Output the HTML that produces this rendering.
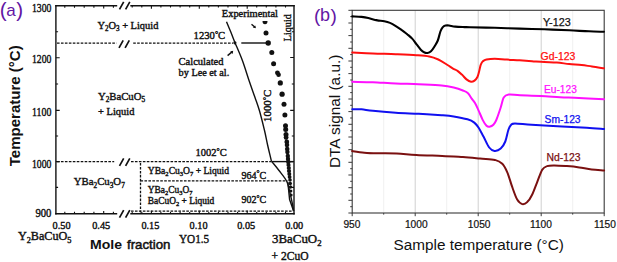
<!DOCTYPE html>
<html><head><meta charset="utf-8"><title>Phase diagram and DTA</title>
<style>html,body{margin:0;padding:0;background:#fff;}svg{display:block;}</style></head>
<body><svg width="617" height="262" viewBox="0 0 617 262">
<rect width="617" height="262" fill="#fff"/>
<g stroke="#111" stroke-width="1.4" fill="none" stroke-linecap="square">
<path d="M55.9 5.8 V213.8"/>
<path d="M294 5.8 V213.8"/>
<path d="M55.9 5.8 H116.5 M131 5.8 H294"/>
<path d="M55.9 213.8 H116.5 M131 213.8 H294"/>
</g>
<g stroke="#111" stroke-width="1.7" fill="none">
<path d="M119.5 9.3 L123.7 1.9 M125.6 9.3 L129.8 1.9"/>
<path d="M119.0 47.8 L123.2 40.4 M125.1 47.8 L129.3 40.4"/>
<path d="M119.5 165.8 L123.7 158.4 M125.6 165.8 L129.8 158.4"/>
<path d="M119.5 217.6 L123.7 210.2 M125.6 217.6 L129.8 210.2"/>
</g>
<path d="M55.9 57.7 h3.8 M55.9 110.4 h3.8 M55.9 161.6 h3.8 M55.9 31.8 h2.2 M55.9 84.0 h2.2 M55.9 136.0 h2.2 M55.9 187.4 h2.2 M294 57.5 h-3.8 M294 110.4 h-3.8 M294 161.6 h-3.8 M294 31.8 h-2.2 M294 84.0 h-2.2 M294 136.0 h-2.2 M294 187.4 h-2.2 M64.8 5.8 v2.0 M64.8 213.8 v-2.0 M74.5 5.8 v2.0 M74.5 213.8 v-2.0 M84.2 5.8 v2.0 M84.2 213.8 v-2.0 M93.9 5.8 v2.0 M93.9 213.8 v-2.0 M103.7 5.8 v2.8 M103.7 213.8 v-2.8 M113.4 5.8 v2.0 M113.4 213.8 v-2.0 M132.2 5.8 v1.8 M132.2 213.8 v-1.8 M141.8 5.8 v1.8 M141.8 213.8 v-1.8 M151.4 5.8 v3.0 M151.4 213.8 v-3.0 M160.9 5.8 v1.8 M160.9 213.8 v-1.8 M170.5 5.8 v1.8 M170.5 213.8 v-1.8 M180.1 5.8 v1.8 M180.1 213.8 v-1.8 M189.7 5.8 v1.8 M189.7 213.8 v-1.8 M199.3 5.8 v3.0 M199.3 213.8 v-3.0 M208.8 5.8 v1.8 M208.8 213.8 v-1.8 M218.4 5.8 v1.8 M218.4 213.8 v-1.8 M228.0 5.8 v1.8 M228.0 213.8 v-1.8 M237.6 5.8 v1.8 M237.6 213.8 v-1.8 M247.2 5.8 v3.0 M247.2 213.8 v-3.0 M256.7 5.8 v1.8 M256.7 213.8 v-1.8 M266.3 5.8 v1.8 M266.3 213.8 v-1.8 M275.9 5.8 v1.8 M275.9 213.8 v-1.8 M285.5 5.8 v1.8 M285.5 213.8 v-1.8" stroke="#111" stroke-width="1.1" fill="none"/>
<g stroke="#111" stroke-width="1.3" fill="none" stroke-dasharray="2.6 1.35">
<path d="M57 43.1 H116.5 M133.2 43.1 H233"/>
<path d="M57 161.7 H114.2 M131 161.7 H271.5"/>
<path d="M140.5 180.8 H287.5"/>
<path d="M140.5 163 V212.5"/>
<path d="M131 211.2 H293"/>
</g>
<g stroke="#111" stroke-width="1.4" fill="none">
<path d="M241.3 43 H267"/>
<path d="M271.8 161.6 H293"/>
<path d="M226.5 21.8 C227.2 23.5 229.3 28.4 230.7 31.8 C232.1 35.2 232.9 37.4 234.8 42.2 C236.8 47.0 240.0 54.0 242.4 60.5 C244.8 67.0 247.1 74.8 249.2 81.0 C251.3 87.2 253.3 92.6 255.0 97.5 C256.7 102.4 257.8 105.1 259.4 110.5 C261.0 115.9 263.0 124.2 264.4 130.0 C265.8 135.8 266.4 139.7 267.6 145.0 C268.8 150.3 270.9 158.8 271.5 161.6"/>
<path d="M271.8 161.6 C273.0 163.1 276.5 167.2 279.0 170.5 C281.5 173.8 284.8 177.4 286.7 181.3 C288.6 185.2 289.3 190.3 290.2 193.9 C291.1 197.5 291.6 200.2 292.2 203.0 C292.8 205.8 293.4 209.7 293.6 211.0"/>
<path d="M287.8 182 L289.6 199.6 L293.6 211"/>
<path d="M251.5 24.3 L255.0 27.3"/>
<path d="M227.6 55.6 L232.3 51.6"/>
</g>
<path d="M256 28.2 l-3.2 -0.6 l2.4 -2.2 z M233.2 50.8 l-0.6 3.2 l-2.4 -2.4 z" fill="#111"/>
<g fill="#111"><circle cx="266.0" cy="32.9" r="2.5"/><circle cx="268.2" cy="43.0" r="2.7"/><circle cx="271.8" cy="52.4" r="2.5"/><circle cx="273.6" cy="63.7" r="2.5"/><circle cx="277.4" cy="72.8" r="2.4"/><circle cx="278.6" cy="74.8" r="2.3"/><circle cx="280.3" cy="82.9" r="2.6"/><circle cx="282.1" cy="94.2" r="2.6"/><circle cx="284.0" cy="104.2" r="2.5"/><circle cx="284.9" cy="114.9" r="2.5"/><circle cx="285.5" cy="125.8" r="2.5"/><circle cx="285.7" cy="129.5" r="2.5"/><circle cx="286.0" cy="134.5" r="2.5"/><circle cx="286.1" cy="137.5" r="2.4"/><circle cx="286.8" cy="142.0" r="2.4"/><circle cx="287.0" cy="145.0" r="2.3"/><circle cx="287.2" cy="149.0" r="2.3"/><circle cx="287.4" cy="152.0" r="2.2"/><circle cx="287.8" cy="156.0" r="2.2"/><circle cx="288.0" cy="159.0" r="2.2"/><circle cx="288.3" cy="162.0" r="2.2"/><circle cx="288.5" cy="165.0" r="2.1"/><circle cx="288.8" cy="168.0" r="2.1"/><circle cx="289.0" cy="171.0" r="2.1"/><circle cx="289.3" cy="174.0" r="2.0"/><circle cx="289.6" cy="177.0" r="1.9"/><circle cx="290.0" cy="180.0" r="1.8"/><circle cx="290.2" cy="183.5" r="1.8"/><circle cx="290.5" cy="187.0" r="1.7"/><circle cx="290.8" cy="191.0" r="1.6"/><circle cx="291.1" cy="195.0" r="1.5"/></g>
<path d="M262.5 21.0 a2.5 3.3 0 0 0 5.0 0 z" fill="#111"/>
<circle cx="234.9" cy="42.8" r="1.6" fill="#111"/>
<g fill="#111" stroke="#111" stroke-width="0.4">
<text x="32.0" y="12.4" font-family="Liberation Serif" font-size="11.50" textLength="19.4" lengthAdjust="spacingAndGlyphs" >1300</text>
<text x="32.0" y="63.4" font-family="Liberation Serif" font-size="11.50" textLength="19.4" lengthAdjust="spacingAndGlyphs" >1200</text>
<text x="32.0" y="116.0" font-family="Liberation Serif" font-size="11.50" textLength="19.4" lengthAdjust="spacingAndGlyphs" >1100</text>
<text x="32.0" y="167.8" font-family="Liberation Serif" font-size="11.50" textLength="19.4" lengthAdjust="spacingAndGlyphs" >1000</text>
<text x="35.4" y="216.5" font-family="Liberation Serif" font-size="11.50" textLength="16.0" lengthAdjust="spacingAndGlyphs" >900</text>
<text x="52.6" y="229.3" font-family="Liberation Serif" font-size="10.40" textLength="18.0" lengthAdjust="spacingAndGlyphs" >0.50</text>
<text x="92.2" y="229.3" font-family="Liberation Serif" font-size="10.40" textLength="18.0" lengthAdjust="spacingAndGlyphs" >0.45</text>
<text x="141.4" y="229.3" font-family="Liberation Serif" font-size="10.40" textLength="18.0" lengthAdjust="spacingAndGlyphs" >0.15</text>
<text x="189.6" y="229.3" font-family="Liberation Serif" font-size="10.40" textLength="18.0" lengthAdjust="spacingAndGlyphs" >0.10</text>
<text x="237.2" y="229.3" font-family="Liberation Serif" font-size="10.40" textLength="18.0" lengthAdjust="spacingAndGlyphs" >0.05</text>
<text x="285.2" y="229.3" font-family="Liberation Serif" font-size="10.40" textLength="18.0" lengthAdjust="spacingAndGlyphs" >0.00</text>
<text x="17.9" y="240.4" font-family="Liberation Serif" font-size="12.0" textLength="53.6" lengthAdjust="spacingAndGlyphs"><tspan>Y</tspan><tspan font-size="8.2" dy="2.6">2</tspan><tspan dy="-2.6">BaCuO</tspan><tspan font-size="8.2" dy="2.6">5</tspan></text>
<text x="179.0" y="242.8" font-family="Liberation Serif" font-size="12.60" textLength="30.2" lengthAdjust="spacingAndGlyphs" >YO1.5</text>
<text x="272.0" y="243.0" font-family="Liberation Serif" font-size="12.2" textLength="49.6" lengthAdjust="spacingAndGlyphs"><tspan>3BaCuO</tspan><tspan font-size="8.3" dy="2.7">2</tspan></text>
<text x="271.6" y="260.3" font-family="Liberation Serif" font-size="11.60" textLength="37.0" lengthAdjust="spacingAndGlyphs" >+ 2CuO</text>
<text x="97.4" y="28.9" font-family="Liberation Serif" font-size="10.8" textLength="61.0" lengthAdjust="spacingAndGlyphs"><tspan>Y</tspan><tspan font-size="7.3" dy="2.4">2</tspan><tspan dy="-2.4">O</tspan><tspan font-size="7.3" dy="2.4">3</tspan><tspan dy="-2.4"> + Liquid</tspan></text>
<text x="193.6" y="39.0" font-family="Liberation Serif" font-size="10.40" textLength="31.6" lengthAdjust="spacingAndGlyphs" >1230<tspan font-size="7.8" dy="-2.1">°</tspan><tspan dy="2.1">C</tspan></text>
<text x="221.8" y="17.2" font-family="Liberation Serif" font-size="10.40" textLength="56.2" lengthAdjust="spacingAndGlyphs" >Experimental</text>
<text transform="translate(290.6 41.2) rotate(-90)" x="0" y="0" font-family="Liberation Serif" font-size="10.4" textLength="27.0" lengthAdjust="spacingAndGlyphs">Liquid</text>
<text x="178.6" y="64.8" font-family="Liberation Serif" font-size="10.50" textLength="44.9" lengthAdjust="spacingAndGlyphs" >Calculated</text>
<text x="178.6" y="76.3" font-family="Liberation Serif" font-size="10.30" textLength="50.6" lengthAdjust="spacingAndGlyphs" >by Lee et al.</text>
<text x="97.9" y="100.0" font-family="Liberation Serif" font-size="10.6" textLength="47.2" lengthAdjust="spacingAndGlyphs"><tspan>Y</tspan><tspan font-size="7.2" dy="2.3">2</tspan><tspan dy="-2.3">BaCuO</tspan><tspan font-size="7.2" dy="2.3">5</tspan></text>
<text x="98.1" y="115.3" font-family="Liberation Serif" font-size="10.40" textLength="36.3" lengthAdjust="spacingAndGlyphs" >+ Liquid</text>
<text transform="translate(271.2 122) rotate(-90)" x="0" y="0" font-family="Liberation Serif" font-size="10.5" textLength="32.4" lengthAdjust="spacingAndGlyphs">1000<tspan font-size="7.9" dy="-2.1">°</tspan><tspan dy="2.1">C</tspan></text>
<text x="195.6" y="156.4" font-family="Liberation Serif" font-size="10.40" textLength="31.2" lengthAdjust="spacingAndGlyphs" >1002<tspan font-size="7.8" dy="-2.1">°</tspan><tspan dy="2.1">C</tspan></text>
<text x="73.8" y="185.2" font-family="Liberation Serif" font-size="10.6" textLength="51.0" lengthAdjust="spacingAndGlyphs"><tspan>YBa</tspan><tspan font-size="7.2" dy="2.3">2</tspan><tspan dy="-2.3">Cu</tspan><tspan font-size="7.2" dy="2.3">3</tspan><tspan dy="-2.3">O</tspan><tspan font-size="7.2" dy="2.3">7</tspan></text>
<text x="147.8" y="174.0" font-family="Liberation Serif" font-size="9.8" textLength="81.2" lengthAdjust="spacingAndGlyphs"><tspan>YBa</tspan><tspan font-size="6.7" dy="2.2">2</tspan><tspan dy="-2.2">Cu</tspan><tspan font-size="6.7" dy="2.2">3</tspan><tspan dy="-2.2">O</tspan><tspan font-size="6.7" dy="2.2">7</tspan><tspan dy="-2.2"> + Liquid</tspan></text>
<text x="241.5" y="178.5" font-family="Liberation Serif" font-size="10.40" textLength="24.8" lengthAdjust="spacingAndGlyphs" >964<tspan font-size="7.8" dy="-2.1">°</tspan><tspan dy="2.1">C</tspan></text>
<text x="147.8" y="192.8" font-family="Liberation Serif" font-size="9.8" textLength="44.6" lengthAdjust="spacingAndGlyphs"><tspan>YBa</tspan><tspan font-size="6.7" dy="2.2">2</tspan><tspan dy="-2.2">Cu</tspan><tspan font-size="6.7" dy="2.2">3</tspan><tspan dy="-2.2">O</tspan><tspan font-size="6.7" dy="2.2">7</tspan></text>
<text x="147.8" y="203.5" font-family="Liberation Serif" font-size="9.7" textLength="66.4" lengthAdjust="spacingAndGlyphs"><tspan>BaCuO</tspan><tspan font-size="6.6" dy="2.1">2</tspan><tspan dy="-2.1"> + Liquid</tspan></text>
<text x="241.5" y="203.3" font-family="Liberation Serif" font-size="10.40" textLength="24.8" lengthAdjust="spacingAndGlyphs" >902<tspan font-size="7.8" dy="-2.1">°</tspan><tspan dy="2.1">C</tspan></text>
</g>
<text transform="translate(19.9 166.3) rotate(-90)" font-family="Liberation Sans" font-weight="bold" font-size="15" textLength="121" lengthAdjust="spacingAndGlyphs" fill="#111">Temperature (°C)</text>
<text x="90.0" y="249.0" font-family="Liberation Sans" font-size="13.20" textLength="32.0" lengthAdjust="spacingAndGlyphs" font-weight="bold" fill="#111">Mole</text>
<text x="127.0" y="249.0" font-family="Liberation Sans" font-size="13.00" textLength="43.5" lengthAdjust="spacingAndGlyphs" stroke="#111" stroke-width="0.5" fill="#111">fraction</text>
<g fill="#6216a4" font-family="Liberation Sans">
<text x="-0.2" y="16.6" font-size="20.6">(</text>
<text x="6.3" y="15.8" font-size="17.0">a</text>
<text x="16.2" y="16.6" font-size="20.6">)</text>
</g>
<path d="M415.2 10.3 V213.0 M478.2 10.3 V213.0 M541.2 10.3 V213.0" stroke="#d0d0d0" stroke-width="1" fill="none"/>
<path d="M383.7 10.3 V213.0 M446.7 10.3 V213.0 M509.7 10.3 V213.0 M572.7 10.3 V213.0" stroke="#f0f0f0" stroke-width="1" fill="none"/>
<rect x="352.2" y="10.3" width="252.0" height="202.7" stroke="#3a3a3a" stroke-width="1.1" fill="none"/>
<path d="M352.2 10.3 h-3.8 M352.2 16.6 h-2.0 M352.2 23.0 h-3.8 M352.2 29.3 h-2.0 M352.2 35.6 h-3.8 M352.2 42.0 h-2.0 M352.2 48.3 h-3.8 M352.2 54.6 h-2.0 M352.2 61.0 h-3.8 M352.2 67.3 h-2.0 M352.2 73.6 h-3.8 M352.2 80.0 h-2.0 M352.2 86.3 h-3.8 M352.2 92.6 h-2.0 M352.2 99.0 h-3.8 M352.2 105.3 h-2.0 M352.2 111.6 h-3.8 M352.2 118.0 h-2.0 M352.2 124.3 h-3.8 M352.2 130.7 h-2.0 M352.2 137.0 h-3.8 M352.2 143.3 h-2.0 M352.2 149.7 h-3.8 M352.2 156.0 h-2.0 M352.2 162.3 h-3.8 M352.2 168.7 h-2.0 M352.2 175.0 h-3.8 M352.2 181.3 h-2.0 M352.2 187.7 h-3.8 M352.2 194.0 h-2.0 M352.2 200.3 h-3.8 M352.2 206.7 h-2.0 M352.2 213.0 h-3.8 M352.2 213.0 v3.2 M383.7 213.0 v1.6 M415.2 213.0 v3.2 M446.7 213.0 v1.6 M478.2 213.0 v3.2 M509.7 213.0 v1.6 M541.2 213.0 v3.2 M572.7 213.0 v1.6 M604.2 213.0 v3.2" stroke="#3a3a3a" stroke-width="1" fill="none"/>
<g fill="none" stroke-linejoin="round" stroke-linecap="round">
<path d="M352.3 16.4 C353.8 16.5 358.8 16.6 361.5 16.9 C364.2 17.2 366.0 17.5 368.3 18.0 C370.6 18.5 373.5 19.5 375.2 19.9 C376.9 20.3 377.1 20.4 378.6 20.6 C380.1 20.8 382.4 20.8 384.3 21.2 C386.2 21.6 388.1 22.1 390.0 22.9 C391.9 23.7 393.9 24.9 395.8 26.1 C397.7 27.3 399.6 28.5 401.5 29.9 C403.4 31.2 405.4 32.8 407.2 34.2 C409.0 35.7 410.6 36.9 412.2 38.6 C413.8 40.3 415.1 42.5 416.6 44.4 C418.1 46.3 419.7 48.6 421.0 50.0 C422.3 51.4 423.4 52.0 424.5 52.5 C425.6 53.0 426.4 53.2 427.5 53.0 C428.6 52.8 429.8 52.4 431.0 51.3 C432.2 50.2 433.4 48.3 434.5 46.5 C435.6 44.7 436.8 43.0 437.8 40.5 C438.8 38.0 439.6 33.7 440.4 31.5 C441.2 29.3 441.8 28.4 442.6 27.4 C443.5 26.4 444.4 25.9 445.5 25.6 C446.6 25.3 447.4 25.3 449.0 25.5 C450.6 25.7 452.7 26.3 455.3 26.6 C457.9 26.9 462.1 27.0 464.5 27.1 C466.9 27.2 464.9 27.1 470.0 27.2 C475.1 27.3 486.5 27.6 494.8 27.8 C503.1 28.0 511.3 28.4 519.6 28.6 C527.9 28.9 536.1 29.0 544.4 29.3 C552.7 29.6 561.8 30.0 569.2 30.3 C576.6 30.6 583.2 31.1 589.0 31.3 C594.8 31.6 601.4 31.7 603.9 31.8" stroke="#000" stroke-width="2.1"/>
<path d="M352.3 52.6 C355.7 52.8 365.6 53.2 372.9 53.5 C380.1 53.8 388.6 53.9 395.8 54.2 C403.1 54.5 410.8 54.8 416.4 55.2 C422.0 55.6 425.5 55.8 429.2 56.5 C432.9 57.2 435.2 58.1 438.3 59.5 C441.4 60.9 445.1 63.5 447.5 65.0 C449.9 66.5 451.3 67.6 453.0 68.6 C454.7 69.6 456.0 69.8 457.5 70.8 C459.0 71.8 460.4 73.2 461.9 74.6 C463.4 76.0 465.0 78.2 466.5 79.4 C468.0 80.6 469.7 81.6 471.0 81.8 C472.3 82.0 473.4 81.4 474.5 80.6 C475.6 79.8 476.5 78.7 477.3 77.2 C478.1 75.7 478.5 73.6 479.1 71.5 C479.7 69.4 480.1 66.3 480.8 64.6 C481.5 62.9 482.2 61.9 483.1 61.1 C484.1 60.3 484.6 60.0 486.5 59.6 C488.4 59.2 491.4 58.8 494.8 58.8 C498.2 58.8 502.9 59.4 507.0 59.6 C511.1 59.9 515.4 60.0 519.6 60.3 C523.8 60.6 527.9 60.9 532.0 61.2 C536.1 61.5 540.3 61.9 544.4 62.1 C548.5 62.3 552.7 62.3 556.8 62.6 C560.9 62.9 565.1 63.6 569.2 64.0 C573.3 64.4 577.8 64.6 581.6 65.0 C585.4 65.4 588.3 66.0 592.0 66.5 C595.7 67.0 601.9 68.0 603.9 68.3" stroke="#ff1010" stroke-width="2"/>
<path d="M352.3 81.8 C355.7 81.9 365.6 81.9 372.9 82.2 C380.1 82.5 388.2 83.1 395.8 83.4 C403.4 83.8 411.1 83.9 418.7 84.3 C426.3 84.7 435.8 85.1 441.6 85.6 C447.4 86.1 450.1 86.7 453.7 87.5 C457.2 88.3 460.5 89.5 462.9 90.5 C465.3 91.5 466.6 91.9 468.0 93.2 C469.4 94.5 470.3 96.7 471.5 98.3 C472.7 99.9 473.9 101.1 475.0 103.0 C476.1 104.9 477.0 107.0 478.3 109.8 C479.6 112.6 481.4 117.4 482.8 120.1 C484.2 122.8 485.4 124.7 486.5 125.8 C487.6 126.9 488.4 127.0 489.5 126.8 C490.6 126.6 492.3 125.9 493.4 124.8 C494.5 123.7 495.1 122.9 496.3 120.0 C497.5 117.1 499.5 111.2 500.7 107.5 C501.9 103.8 502.4 99.8 503.7 97.6 C505.0 95.4 506.0 95.0 508.7 94.6 C511.4 94.2 514.8 95.1 520.1 95.3 C525.5 95.5 534.1 95.7 540.8 96.0 C547.4 96.3 554.4 96.9 560.0 97.2 C565.6 97.5 567.0 97.5 574.4 97.8 C581.8 98.1 599.1 99.0 604.1 99.3" stroke="#ff10ff" stroke-width="2"/>
<path d="M352.3 109.2 C353.8 109.2 358.1 109.0 361.5 109.3 C364.9 109.6 367.2 110.2 372.9 110.8 C378.6 111.4 388.2 112.2 395.8 112.7 C403.4 113.2 411.1 113.4 418.7 113.8 C426.3 114.2 435.8 114.8 441.6 115.2 C447.4 115.6 449.4 115.7 453.7 116.4 C458.0 117.1 464.1 118.3 467.5 119.3 C470.9 120.3 472.5 121.2 474.3 122.6 C476.1 124.0 477.0 125.2 478.5 127.5 C480.0 129.8 481.7 133.2 483.5 136.5 C485.3 139.8 487.4 145.1 489.2 147.5 C491.0 149.9 492.6 150.7 494.5 150.9 C496.4 151.1 498.9 150.2 500.7 148.6 C502.5 147.0 504.0 144.7 505.3 141.5 C506.6 138.3 507.5 132.3 508.5 129.5 C509.5 126.7 510.1 125.8 511.2 124.8 C512.3 123.8 511.6 123.6 515.0 123.6 C518.4 123.6 523.8 124.3 531.6 124.8 C539.4 125.3 552.8 126.1 562.0 126.6 C571.2 127.1 579.8 127.4 586.8 127.8 C593.8 128.2 601.2 128.8 604.1 129.0" stroke="#1010f0" stroke-width="2"/>
<path d="M352.1 151.1 C354.2 151.4 360.2 152.3 364.4 152.7 C368.6 153.1 372.0 153.2 377.4 153.3 C382.8 153.4 390.3 153.2 396.8 153.5 C403.3 153.8 408.7 154.6 416.3 155.0 C423.9 155.4 434.4 155.6 442.2 155.9 C450.0 156.2 456.6 156.7 462.9 157.1 C469.2 157.5 474.7 158.1 480.0 158.6 C485.3 159.1 491.2 159.1 494.9 159.9 C498.6 160.8 500.2 161.6 502.3 163.7 C504.4 165.8 505.6 168.4 507.3 172.3 C509.0 176.2 510.6 182.6 512.3 187.2 C513.9 191.8 515.6 196.8 517.2 199.6 C518.9 202.4 520.5 203.7 522.2 204.1 C523.9 204.5 525.6 203.7 527.2 202.1 C528.9 200.5 530.5 198.0 532.1 194.7 C533.8 191.4 535.4 186.4 537.1 182.3 C538.8 178.2 540.5 172.6 542.1 169.9 C543.8 167.2 544.9 166.8 547.0 166.1 C549.1 165.3 551.2 165.4 554.5 165.4 C557.8 165.4 562.8 165.8 566.9 166.1 C571.0 166.4 575.2 166.8 579.3 167.4 C583.4 168.0 587.6 168.9 591.7 169.4 C595.8 169.9 602.0 170.2 604.1 170.4" stroke="#7a1010" stroke-width="2"/>
</g>
<text x="542.9" y="26.0" font-family="Liberation Sans" font-size="10.70" textLength="27.8" lengthAdjust="spacingAndGlyphs" fill="#111" stroke="#111" stroke-width="0.25">Y-123</text>
<text x="540.6" y="59.5" font-family="Liberation Sans" font-size="10.40" textLength="34.8" lengthAdjust="spacingAndGlyphs" fill="#ff1010" stroke="#ff1010" stroke-width="0.25">Gd-123</text>
<text x="544.1" y="93.4" font-family="Liberation Sans" font-size="10.40" textLength="32.7" lengthAdjust="spacingAndGlyphs" fill="#ff10ff" stroke="#ff10ff" stroke-width="0.25">Eu-123</text>
<text x="544.6" y="122.5" font-family="Liberation Sans" font-size="10.40" textLength="36.0" lengthAdjust="spacingAndGlyphs" fill="#1010f0" stroke="#1010f0" stroke-width="0.25">Sm-123</text>
<text x="546.5" y="160.5" font-family="Liberation Sans" font-size="10.40" textLength="34.0" lengthAdjust="spacingAndGlyphs" fill="#7a1010" stroke="#7a1010" stroke-width="0.25">Nd-123</text>
<text x="351.9" y="228.2" font-family="Liberation Sans" font-size="10.2" text-anchor="middle" fill="#111" stroke="#111" stroke-width="0.2">950</text>
<text x="416.3" y="228.2" font-family="Liberation Sans" font-size="10.2" text-anchor="middle" fill="#111" stroke="#111" stroke-width="0.2">1000</text>
<text x="479.2" y="228.2" font-family="Liberation Sans" font-size="10.2" text-anchor="middle" fill="#111" stroke="#111" stroke-width="0.2">1050</text>
<text x="541.0" y="228.2" font-family="Liberation Sans" font-size="10.2" text-anchor="middle" fill="#111" stroke="#111" stroke-width="0.2">1100</text>
<text x="605.0" y="228.2" font-family="Liberation Sans" font-size="10.2" text-anchor="middle" fill="#111" stroke="#111" stroke-width="0.2">1150</text>
<text x="393.6" y="249.8" font-family="Liberation Sans" font-size="15.50" textLength="170.2" lengthAdjust="spacingAndGlyphs" fill="#111">Sample temperature (°C)</text>
<text transform="translate(339.5 168) rotate(-90)" font-family="Liberation Sans" font-size="15" textLength="113.4" lengthAdjust="spacingAndGlyphs" fill="#111">DTA signal (a.u.)</text>
<g fill="#6216a4" font-family="Liberation Sans">
<text x="314.1" y="21.6" font-size="19.0">(</text>
<text x="319.9" y="21.4" font-size="18.0">b</text>
<text x="330.4" y="21.6" font-size="19.0">)</text>
</g>
</svg></body></html>
